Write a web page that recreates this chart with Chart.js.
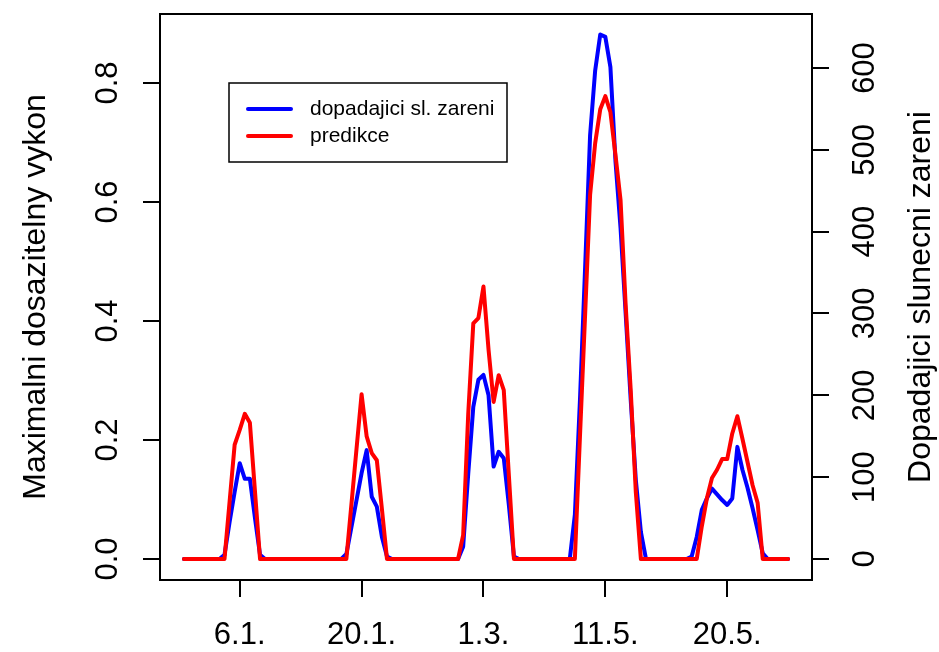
<!DOCTYPE html>
<html>
<head>
<meta charset="utf-8">
<script src="https://cdn.jsdelivr.net/npm/chart.js@4.4.1/dist/chart.umd.min.js"></script>
<style>
  html, body { margin: 0; padding: 0; background: #ffffff; }
  #wrap { width: 939px; height: 652px; }
</style>
</head>
<body>
<div id="wrap"><canvas id="chart" width="939" height="652"></canvas></div>
<script>
// Hourly values for five days (24 samples per day)
// incident solar radiation, W/m2 (right axis)
const irradiance = [
  0, 0, 0, 0, 0, 0, 0, 0, 5, 45, 82, 117, 98, 98, 50, 5, 0, 0, 0, 0, 0, 0, 0, 0,
  0, 0, 0, 0, 0, 0, 0, 0, 6, 39, 72, 105, 133, 76, 64, 27, 3, 0, 0, 0, 0, 0, 0, 0,
  0, 0, 0, 0, 0, 0, 0, 15, 104, 186, 219, 225, 200, 113, 131, 123, 66, 3, 0, 0, 0, 0, 0, 0,
  0, 0, 0, 0, 0, 54, 194, 353, 518, 597, 641, 638, 601, 486, 404, 300, 194, 97, 33, 0, 0, 0, 0, 0,
  0, 0, 0, 0, 3, 27, 60, 74, 86, 79, 72, 66, 74, 137, 109, 87, 62, 35, 7, 0, 0, 0, 0, 0
];

// predicted maximum achievable power (left axis)
const prediction = [
  0, 0, 0, 0, 0, 0, 0, 0, 0, 0.096, 0.192, 0.217, 0.244, 0.229, 0.114, 0, 0, 0, 0, 0, 0, 0, 0, 0,
  0, 0, 0, 0, 0, 0, 0, 0, 0, 0.092, 0.185, 0.277, 0.206, 0.178, 0.166, 0.084, 0, 0, 0, 0, 0, 0, 0, 0,
  0, 0, 0, 0, 0, 0, 0, 0.040, 0.244, 0.396, 0.405, 0.458, 0.352, 0.264, 0.309, 0.284, 0.141, 0, 0, 0, 0, 0, 0, 0,
  0, 0, 0, 0, 0, 0, 0.205, 0.407, 0.612, 0.699, 0.756, 0.778, 0.751, 0.679, 0.603, 0.427, 0.284, 0.113, 0, 0, 0, 0, 0, 0,
  0, 0, 0, 0, 0, 0, 0.055, 0.102, 0.136, 0.150, 0.168, 0.168, 0.211, 0.240, 0.202, 0.163, 0.124, 0.094, 0, 0, 0, 0, 0, 0
];

// x-axis: sample index of each day's midday tick and its date label
const dayTicks = [12, 36, 60, 84, 108];
const dayLabels = ["6.1.", "20.1.", "1.3.", "11.5.", "20.5."];

// y-axis tick values
const leftTicks = [0, 0.2, 0.4, 0.6, 0.8];
const rightTicks = [0, 100, 200, 300, 400, 500, 600];

const seriesNames = ["dopadajici sl. zareni", "predikce"];
const leftTitle = "Maximalni dosazitelny vykon";
const rightTitle = "Dopadajici slunecni zareni";

const FONT = "'Liberation Sans', Arial, Helvetica, sans-serif";
Chart.defaults.font.family = FONT;
Chart.defaults.color = "#000";

const toPoints = (arr) => arr.map((v, i) => ({ x: i + 1, y: v }));
const fixedTicks = (values) => (scale) => {
  scale.ticks = values.map((v) => ({ value: v }));
};

// plot frame like R's box()
const framePlugin = {
  id: "frame",
  afterDraw(chart) {
    const { ctx, chartArea: a } = chart;
    ctx.save();
    ctx.strokeStyle = "#000";
    ctx.lineWidth = 2;
    ctx.strokeRect(a.left, a.top, a.right - a.left, a.bottom - a.top);
    ctx.restore();
  }
};

// right-hand axis title, reading bottom to top
const rightTitlePlugin = {
  id: "rightTitle",
  afterDraw(chart) {
    const { ctx, chartArea: a } = chart;
    ctx.save();
    ctx.translate(chart.width - 18, (a.top + a.bottom) / 2);
    ctx.rotate(-Math.PI / 2);
    ctx.font = "32px " + FONT;
    ctx.fillStyle = "#000";
    ctx.textAlign = "center";
    ctx.textBaseline = "middle";
    ctx.fillText(rightTitle, 0, 0);
    ctx.restore();
  }
};

// boxed legend in the upper left of the plot
const boxLegendPlugin = {
  id: "boxLegend",
  afterDraw(chart) {
    const { ctx, chartArea: a } = chart;
    const x = a.left + 69, y = a.top + 69, w = 278, h = 79;
    ctx.save();
    ctx.fillStyle = "#fff";
    ctx.fillRect(x, y, w, h);
    ctx.strokeStyle = "#000";
    ctx.lineWidth = 1.5;
    ctx.strokeRect(x, y, w, h);
    ctx.font = "21px " + FONT;
    ctx.textBaseline = "middle";
    ctx.textAlign = "left";
    chart.data.datasets.forEach((ds, i) => {
      const ly = y + 26 + i * 27;
      ctx.strokeStyle = ds.borderColor;
      ctx.lineWidth = 4;
      ctx.lineCap = "round";
      ctx.beginPath();
      ctx.moveTo(x + 19, ly);
      ctx.lineTo(x + 62, ly);
      ctx.stroke();
      ctx.fillStyle = "#000";
      ctx.fillText(ds.label, x + 81, ly);
    });
    ctx.restore();
  }
};

const tickGrid = {
  display: true,
  drawOnChartArea: false,
  drawTicks: true,
  tickLength: 17,
  tickWidth: 2,
  tickColor: "#000",
  color: "#000",
  lineWidth: 2
};

// fixed axis sizes; no extra room for the end labels
const fitWidth = (w) => (scale) => {
  scale.width = w;
  scale.paddingTop = 0;
  scale.paddingBottom = 0;
};

new Chart(document.getElementById("chart"), {
  type: "line",
  data: {
    datasets: [
      {
        label: seriesNames[0],
        data: toPoints(irradiance),
        yAxisID: "yRight",
        borderColor: "#0000ff",
        borderWidth: 4,
        pointRadius: 0,
        tension: 0,
        borderJoinStyle: "round",
        borderCapStyle: "round",
        order: 1
      },
      {
        label: seriesNames[1],
        data: toPoints(prediction),
        yAxisID: "yLeft",
        borderColor: "#ff0000",
        borderWidth: 4,
        pointRadius: 0,
        tension: 0,
        borderJoinStyle: "round",
        borderCapStyle: "round",
        order: 0
      }
    ]
  },
  options: {
    responsive: false,
    animation: false,
    layout: { padding: { top: 14, left: 0, right: 0, bottom: 0 } },
    plugins: {
      legend: { display: false },
      tooltip: { enabled: false }
    },
    scales: {
      x: {
        type: "linear",
        min: -3.7,
        max: 124.7,
        grid: tickGrid,
        border: { display: false },
        afterBuildTicks: fixedTicks(dayTicks),
        afterFit: (scale) => {
          scale.height = 72;
          scale.paddingLeft = 0;
          scale.paddingRight = 0;
        },
        ticks: {
          autoSkip: false,
          maxRotation: 0,
          padding: 20,
          font: { size: 31 },
          color: "#000",
          callback: (value, index) => dayLabels[index]
        }
      },
      yLeft: {
        type: "linear",
        position: "left",
        min: -0.0353,
        max: 0.916,
        grid: tickGrid,
        border: { display: false },
        afterBuildTicks: fixedTicks(leftTicks),
        afterFit: fitWidth(160),
        title: {
          display: true,
          text: leftTitle,
          font: { size: 32 },
          color: "#000",
          padding: { top: 17, bottom: 0 }
        },
        ticks: {
          autoSkip: false,
          minRotation: 90,
          maxRotation: 90,
          crossAlign: "center",
          padding: 13,
          font: { size: 31 },
          color: "#000",
          callback: (value) => value.toFixed(1)
        }
      },
      yRight: {
        type: "linear",
        position: "right",
        min: -25.7,
        max: 666,
        grid: tickGrid,
        border: { display: false },
        afterBuildTicks: fixedTicks(rightTicks),
        afterFit: fitWidth(127),
        ticks: {
          autoSkip: false,
          minRotation: 90,
          maxRotation: 90,
          crossAlign: "center",
          padding: 11,
          font: { size: 31 },
          color: "#000",
          callback: (value) => String(Math.round(value))
        }
      }
    }
  },
  plugins: [framePlugin, rightTitlePlugin, boxLegendPlugin]
});
</script>
</body>
</html>
